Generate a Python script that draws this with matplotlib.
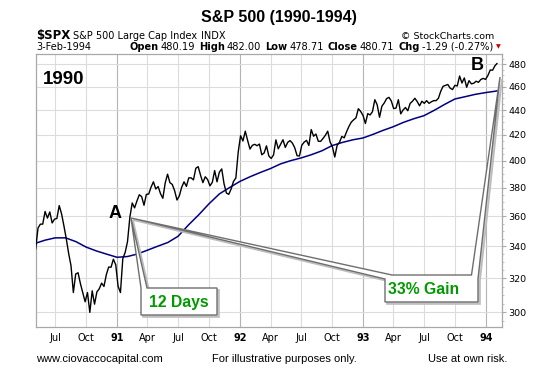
import matplotlib
matplotlib.use('Agg')
import matplotlib.pyplot as plt
import matplotlib.dates as mdates
import matplotlib.transforms as mtransforms
from matplotlib.patches import Polygon
from matplotlib.ticker import FixedLocator, NullFormatter
import pandas as pd
import numpy as np

W, H = 557, 370

# ---------------- data (weekly closes) ----------------
spx_1990 = [338.4, 352.0, 354.6, 354.6, 363.2, 358.7, 362.9, 355.4, 358.0, 358.4,
            367.3, 361.6, 353.4, 344.9, 335.5, 327.8, 311.5, 322.6, 323.4, 316.8,
            311.3, 306.1, 311.5, 300.0, 312.5, 304.7, 311.9, 313.7, 317.1, 315.1,
            322.2, 326.9, 326.8, 331.8, 328.3]
spx_1991 = [315.2, 311.5, 332.2, 336.1, 343.1, 359.4, 369.1, 365.7, 370.5, 374.9,
            373.6, 367.5, 375.2, 375.4, 380.4, 384.2, 379.0, 380.8, 375.7, 372.4,
            383.4, 389.8, 383.6, 382.3, 377.8, 371.2, 374.1, 380.3, 384.2, 380.9,
            387.1, 387.1, 385.6, 394.2, 395.4, 389.1, 383.6, 387.9, 385.9, 381.3,
            383.8, 392.5, 384.2, 391.3, 393.7, 382.6, 376.1, 375.2, 379.1, 384.5,
            387.0, 406.5]
spx_1992 = [419.3, 415.1, 422.9, 415.5, 408.8, 411.7, 412.5, 411.4, 412.7, 404.4,
            405.8, 411.3, 403.5, 401.6, 404.3, 416.0, 409.0, 412.5, 416.1, 410.1,
            414.0, 415.4, 413.5, 409.8, 403.7, 403.5, 411.8, 414.2, 415.6, 411.6,
            424.2, 418.9, 420.6, 414.9, 414.8, 417.1, 419.6, 422.9, 414.4, 410.5,
            402.7, 411.7, 414.1, 418.7, 417.6, 422.4, 426.7, 430.2, 432.1, 433.7,
            441.3, 439.0]
spx_1993 = [435.7, 429.1, 437.2, 436.1, 438.8, 448.9, 444.6, 434.2, 443.4, 446.1,
            449.8, 450.9, 447.8, 441.4, 441.8, 448.9, 437.0, 440.2, 442.3, 439.6,
            445.8, 447.6, 450.1, 447.3, 443.7, 447.6, 445.8, 448.1, 445.8, 447.1,
            448.1, 448.1, 450.1, 456.2, 460.5, 461.3, 462.0, 458.8, 457.6, 461.3,
            460.7, 469.5, 463.3, 467.8, 459.6, 465.4, 462.6, 463.1, 464.9, 463.9,
            466.4, 467.4, 466.5]
spx_1994 = [469.9, 474.9, 474.7, 478.7, 480.7]
spx_first_week = '1990-05-04'
spx_last_day = '1994-02-03'

ma_values = [342.0,
             344.0, 345.5, 345.5, 343.0, 339.5, 337.0, 335.0,
             333.0, 333.5, 335.0, 337.5, 340.0, 342.5, 346.5, 354.0, 361.0, 368.5, 375.5, 380.0,
             384.5, 388.0, 391.0, 394.0, 397.5, 400.0, 402.0, 404.5, 407.5, 411.5, 414.0, 416.0,
             417.5, 420.5, 423.5, 426.5, 430.0, 433.0, 435.5, 440.0, 445.0, 449.5, 451.5, 453.5,
             455.0, 456.3, 456.5]
ma_first_day = '1990-05-04'
ma_month_start = '1990-06-01'
ma_month_end = '1994-02-01'
ma_last_day = '1994-02-03'

price_ticks = [300, 320, 340, 360, 380, 400, 420, 440, 460, 480]
date_ticks = ['1990-07-01', '1990-10-01', '1991-01-01', '1991-04-01', '1991-07-01',
              '1991-10-01', '1992-01-01', '1992-04-01', '1992-07-01', '1992-10-01',
              '1993-01-01', '1993-04-01', '1993-07-01', '1993-10-01', '1994-01-01']
date_labels = ['Jul', 'Oct', '91', 'Apr', 'Jul', 'Oct', '92', 'Apr', 'Jul', 'Oct',
               '93', 'Apr', 'Jul', 'Oct', '94']

# ---------------- build series ----------------
spx = spx_1990 + spx_1991 + spx_1992 + spx_1993 + spx_1994
spx_dates = list(pd.date_range(spx_first_week, periods=len(spx) - 1, freq='W-FRI')) + [pd.Timestamp(spx_last_day)]
ma_dates = ([pd.Timestamp(ma_first_day)] + list(pd.date_range(ma_month_start, ma_month_end, freq='MS'))
            + [pd.Timestamp(ma_last_day)])

# ---------------- figure ----------------
fig = plt.figure(figsize=(W / 100, H / 100), dpi=100)
fig.patch.set_facecolor('white')
ax = fig.add_axes([36 / W, 1 - 327 / H, 466 / W, 273 / H])
px = mtransforms.Affine2D().scale(1 / W, -1 / H).translate(0, 1) + fig.transFigure

ax.set_yscale('log')
ax.set_ylim(291.8, 489.5)
ax.set_xlim(pd.Timestamp('1990-05-05'), pd.Timestamp('1994-02-18'))

# grid
tick_dates = [pd.Timestamp(d) for d in date_ticks]
for d, lab in zip(tick_dates, date_labels):
    ax.axvline(d, color='#b4b4b4' if lab.isdigit() else '#dcdcdc', lw=0.8, zorder=0)
for p in price_ticks:
    ax.axhline(p, color='#dcdcdc', lw=0.8, zorder=0)

ax.plot(ma_dates, ma_values, color='#000080', lw=1.1, zorder=3)
ax.plot(spx_dates, spx, color='black', lw=1.0, zorder=4)

for s in ax.spines.values():
    s.set_color('#a8a8a8')
    s.set_linewidth(0.9)

ax.yaxis.set_major_locator(FixedLocator(price_ticks))
ax.yaxis.set_major_formatter(matplotlib.ticker.FixedFormatter([str(p) for p in price_ticks]))
ax.yaxis.set_minor_locator(FixedLocator(list(range(295, 490, 5))))
ax.yaxis.set_minor_formatter(NullFormatter())
ax.yaxis.tick_right()
ax.tick_params(axis='y', which='major', length=3, width=0.8, color='#a8a8a8', pad=1.5,
               labelsize=6.8, labelcolor='black')
ax.tick_params(axis='y', which='minor', length=1.5, width=0.6, color='#b8b8b8')
ax.tick_params(axis='y', which='both', left=False)

ax.xaxis.set_major_locator(FixedLocator(mdates.date2num(tick_dates)))
ax.xaxis.set_major_formatter(matplotlib.ticker.FixedFormatter(date_labels))
ax.xaxis.set_minor_locator(FixedLocator([]))
ax.tick_params(axis='x', length=0, pad=4, labelsize=7)
for t, lab in zip(ax.get_xticklabels(), date_labels):
    t.set_family('DejaVu Sans')
    if lab.isdigit():
        t.set_fontweight('bold')
for t in ax.get_yticklabels():
    t.set_family('DejaVu Sans')

# ---------------- callouts ----------------
def callout(points, offset=2.0):
    sh = [(x + offset, y + offset) for x, y in points]
    fig.add_artist(Polygon(sh, closed=True, transform=px, facecolor='#d0d0d0',
                           edgecolor='#bdbdbd', lw=1.2, zorder=5))
    fig.add_artist(Polygon(points, closed=True, transform=px, facecolor='white',
                           edgecolor='#6e6e6e', lw=1.0, zorder=6))

tipA = (131, 218)
tipB = (500, 77)
callout([tipA, (147, 288), (217, 288), (217, 315), (141, 315), (141, 288)])
callout([(385, 279), tipA, (392, 275), (471.5, 275), tipB, (478, 279), (478, 302), (385, 302)])

green = '#009a00'
fig.text(179, 302, '12 Days', transform=px, ha='center', va='center', color=green,
         fontsize=11.3, fontweight='bold', family='Liberation Sans', zorder=7)
fig.text(424, 289.5, '33% Gain', transform=px, ha='center', va='center', color=green,
         fontsize=11.3, fontweight='bold', family='Liberation Sans', zorder=7)

fig.text(43, 80, '1990', transform=px, ha='left', va='center', fontsize=13.5,
         fontweight='bold', family='Liberation Sans', zorder=7)
fig.text(115, 214, 'A', transform=px, ha='center', va='center', fontsize=13,
         fontweight='bold', family='Liberation Sans', zorder=7)
fig.text(477, 65.5, 'B', transform=px, ha='center', va='center', fontsize=13,
         fontweight='bold', family='Liberation Sans', zorder=7)

# ---------------- header ----------------
fig.text(278.5, 17.5, 'S&P 500 (1990-1994)', transform=px, ha='center', va='center',
         fontsize=11.5, fontweight='bold', family='Liberation Sans')

renderer = fig.canvas.get_renderer()

def seq_text(x, y, pieces, align='left'):
    objs = []
    total = 0
    for s, kw, gap in pieces:
        t = fig.text(0, 0, s, transform=px, va='center', ha='left', **kw)
        w = t.get_window_extent(renderer).width
        objs.append((t, w, gap))
        total += w + gap
    start = x if align == 'left' else x - total
    for t, w, gap in objs:
        t.set_position((start, y))
        start += w + gap

reg = dict(fontsize=7, family='DejaVu Sans')
reg2 = dict(fontsize=7.1, family='DejaVu Sans')
bld2 = dict(fontsize=7.1, family='DejaVu Sans', fontweight='bold')
seq_text(36, 36, [('$SPX', dict(fontsize=8.5, family='DejaVu Sans', fontweight='bold'), 3),
                  ('S&P 500 Large Cap Index', reg, 4), ('INDX', reg, 0)])
fig.text(494.5, 36.5, '\u00a9 StockCharts.com', transform=px, ha='right', va='center',
         fontsize=6.8, family='DejaVu Sans')
fig.text(36, 46.5, '3-Feb-1994', transform=px, ha='left', va='center', **reg)
seq_text(493, 46.5, [('Open', bld2, 2), ('480.19', reg2, 4), ('High', bld2, 2), ('482.00', reg2, 4),
                     ('Low', bld2, 2), ('478.71', reg2, 4), ('Close', bld2, 2), ('480.71', reg2, 4),
                     ('Chg', bld2, 2), ('-1.29 (-0.27%)', reg2, 0)], align='right')
fig.text(498, 47, '\u25bc', transform=px, ha='center', va='center', color='#cc0000',
         fontsize=4.5, family='DejaVu Sans')

# ---------------- footer ----------------
foot = dict(fontsize=8, family='Liberation Sans', va='center', transform=px)
fig.text(36, 359, 'www.ciovaccocapital.com', ha='left', **foot)
fig.text(284, 359, 'For illustrative purposes only.', ha='center', **foot)
fig.text(507, 359, 'Use at own risk.', ha='right', **foot)

fig.savefig('out.png', dpi=100, facecolor='white')
